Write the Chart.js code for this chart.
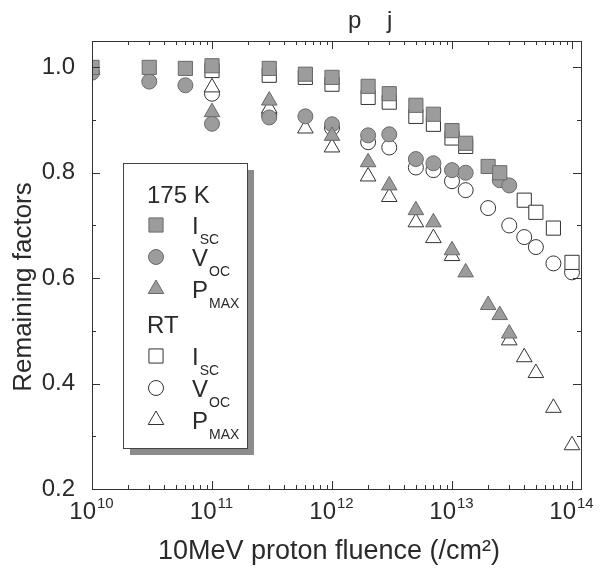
<!DOCTYPE html>
<html>
<head>
<meta charset="utf-8">
<script src="https://cdn.jsdelivr.net/npm/chart.js@4.4.0/dist/chart.umd.min.js"></script>
<style>
html,body{margin:0;padding:0;background:#fff;}
</style>
</head>
<body>
<canvas id="myChart" width="600" height="571"></canvas>
<script>
//175 K 数据
var isc175Fluence=[1e10,3e10,6e10,1e11,3e11,6e11,1e12,2e12,3e12,5e12,7e12,1e13,1.3e13,2e13,2.5e13];
var isc175=[1.0,1.0,0.998,1.003,0.998,0.987,0.981,0.964,0.95,0.928,0.911,0.88,0.856,0.812,0.80];
var voc175Fluence=[1e10,3e10,6e10,1e11,3e11,6e11,1e12,2e12,3e12,5e12,7e12,1e13,1.3e13,2.5e13,3e13];
var voc175=[0.99,0.973,0.966,0.893,0.905,0.907,0.892,0.871,0.873,0.826,0.818,0.805,0.80,0.786,0.776];
var pmax175Fluence=[1e10,1e11,3e11,1e12,2e12,3e12,5e12,7e12,1e13,1.3e13,2e13,2.5e13,3e13];
var pmax175=[0.995,0.915,0.937,0.87,0.82,0.776,0.729,0.706,0.653,0.611,0.549,0.53,0.495];
//RT 数据
var iscRTFluence=[1e11,3e11,6e11,1e12,2e12,3e12,5e12,7e12,1e13,1.3e13,4e13,5e13,7e13,1e14];
var iscRT=[0.994,0.985,0.981,0.968,0.943,0.934,0.907,0.892,0.866,0.85,0.748,0.725,0.695,0.63];
var vocRTFluence=[1e11,3e11,1e12,2e12,3e12,5e12,7e12,1e13,1.3e13,2e13,3e13,4e13,5e13,7e13,1e14];
var vocRT=[0.95,0.91,0.885,0.858,0.848,0.81,0.805,0.784,0.767,0.733,0.70,0.678,0.659,0.628,0.611];
var pmaxRTFluence=[1e11,3e11,6e11,1e12,2e12,3e12,5e12,7e12,1e13,3e13,4e13,5e13,7e13,1e14];
var pmaxRT=[0.962,0.922,0.884,0.848,0.793,0.754,0.706,0.676,0.642,0.482,0.45,0.42,0.354,0.283];
//坐标轴刻度
var xDecades=[1e10,1e11,1e12,1e13,1e14];
var yTicks=[0.2,0.4,0.6,0.8,1.0];
var yMinorTicks=[0.3,0.5,0.7,0.9];

var FONT='"Liberation Sans", Arial, sans-serif';
var TEXT='#2a2a2a';
var GRAY='#9c9c9c';

function pts(xs,ys){
	var arr=[];
	for(var i=0;i<xs.length;i++){
		arr.push({x:xs[i],y:ys[i]});
	}
	return arr;
}
function filled(label,xs,ys,style,r){
	return {label:label,data:pts(xs,ys),pointStyle:style,pointRadius:r,pointHoverRadius:r,
		backgroundColor:GRAY,borderColor:'#6a6a6a',borderWidth:1,clip:0};
}
function open(label,xs,ys,style,r){
	return {label:label,data:pts(xs,ys),pointStyle:style,pointRadius:r,pointHoverRadius:r,
		backgroundColor:'#fff',borderColor:'#333',borderWidth:1,clip:0};
}

//边框、内向刻度、x轴标签、图例
var framePlugin={
	id:'frame',
	afterDatasetsDraw:function(chart){
		var ctx=chart.ctx,a=chart.chartArea,xs=chart.scales.x,ys=chart.scales.y;
		ctx.save();
		ctx.strokeStyle='#333';
		ctx.lineWidth=1;
		ctx.strokeRect(a.left+0.5,a.top+0.5,a.right-a.left,a.bottom-a.top);
		ctx.beginPath();
		//x 主刻度和次刻度
		for(var d=0;d<xDecades.length;d++){
			for(var m=1;m<10;m++){
				var v=xDecades[d]*m;
				if(v<xs.min||v>xs.max)continue;
				var px=Math.round(xs.getPixelForValue(v))+0.5;
				var len=(m==1)?8:4;
				ctx.moveTo(px,a.bottom);ctx.lineTo(px,a.bottom-len);
				ctx.moveTo(px,a.top);ctx.lineTo(px,a.top+len);
			}
		}
		//y 刻度
		yTicks.concat(yMinorTicks).forEach(function(v){
			var py=Math.round(ys.getPixelForValue(v))+0.5;
			var len=(yTicks.indexOf(v)>=0)?8:4;
			ctx.moveTo(a.left,py);ctx.lineTo(a.left+len,py);
			ctx.moveTo(a.right,py);ctx.lineTo(a.right-len,py);
		});
		ctx.stroke();
		ctx.restore();
	},
	afterDraw:function(chart){
		var ctx=chart.ctx,a=chart.chartArea,xs=chart.scales.x;
		ctx.save();
		ctx.fillStyle=TEXT;
		ctx.textBaseline='alphabetic';
		//x轴 10^n 标签
		xDecades.forEach(function(v){
			var px=xs.getPixelForValue(v);
			var exp=String(Math.round(Math.log10(v)));
			ctx.font='24px '+FONT;
			var w1=ctx.measureText('10').width;
			ctx.font='15px '+FONT;
			var w2=ctx.measureText(exp).width;
			var x0=px-(w1+w2)/2-1;
			ctx.font='24px '+FONT;
			ctx.fillText('10',x0,a.bottom+30);
			ctx.font='15px '+FONT;
			ctx.fillText(exp,x0+w1+1,a.bottom+19);
		});
		//x轴标题
		ctx.textAlign='center';
		ctx.font='27px '+FONT;
		ctx.fillText('10MeV proton fluence (/cm\u00b2)',a.left+237,a.bottom+70);
		//y轴标题
		ctx.save();
		ctx.translate(24,a.top+246);
		ctx.rotate(-Math.PI/2);
		ctx.textBaseline='middle';
		ctx.font='26px '+FONT;
		ctx.fillText('Remaining factors',0,0);
		ctx.restore();
		ctx.textAlign='left';
		//顶部残留标题
		ctx.font='24px '+FONT;
		ctx.fillText('p',a.left+256,a.top-13);
		ctx.fillText('j',a.left+295,a.top-13);

		//图例
		var bx=a.left+31,by=a.top+122,bw=124,bh=285;
		ctx.fillStyle='#8c8c8c';
		ctx.fillRect(bx+7,by+7,bw,bh);
		ctx.fillStyle='#fff';
		ctx.fillRect(bx,by,bw,bh);
		ctx.strokeStyle='#444';
		ctx.lineWidth=1;
		ctx.strokeRect(bx+0.5,by+0.5,bw,bh);

		var ds=chart.data.datasets;
		var rows=[
			{head:'175 K',y:31},
			{set:0,main:'I',sub:'SC',y:62},
			{set:2,main:'V',sub:'OC',y:94},
			{set:1,main:'P',sub:'MAX',y:126},
			{head:'RT',y:161},
			{set:4,main:'I',sub:'SC',y:193},
			{set:5,main:'V',sub:'OC',y:225},
			{set:3,main:'P',sub:'MAX',y:257}
		];
		rows.forEach(function(r){
			var cy=by+r.y;
			ctx.fillStyle=TEXT;
			if(r.head){
				ctx.font='24px '+FONT;
				ctx.fillText(r.head,bx+24,cy+8.5);
				return;
			}
			var d=ds[r.set];
			ctx.fillStyle=d.backgroundColor;
			ctx.strokeStyle=d.borderColor;
			ctx.lineWidth=d.borderWidth;
			Chart.helpers.drawPoint(ctx,{pointStyle:d.pointStyle,radius:d.pointRadius,rotation:0,borderWidth:d.borderWidth},bx+33,cy);
			ctx.fillStyle=TEXT;
			ctx.font='24px '+FONT;
			ctx.fillText(r.main,bx+69,cy+8.5);
			var w=ctx.measureText(r.main).width;
			ctx.font='14px '+FONT;
			ctx.fillText(r.sub,bx+69+w+1,cy+18.5);
		});
		ctx.restore();
	}
};

var ctx1=document.getElementById("myChart");
var myChart=new Chart(ctx1,{
	type:'scatter',
	data:{
		datasets:[
			filled('Isc 175 K',isc175Fluence,isc175,'rect',10),
			filled('Pmax 175 K',pmax175Fluence,pmax175,'triangle',9),
			filled('Voc 175 K',voc175Fluence,voc175,'circle',7.5),
			open('Pmax RT',pmaxRTFluence,pmaxRT,'triangle',9),
			open('Isc RT',iscRTFluence,iscRT,'rect',10),
			open('Voc RT',vocRTFluence,vocRT,'circle',7.5)
		]
	},
	options:{
		responsive:false,
		animation:false,
		layout:{padding:{top:41,right:19,bottom:0,left:0}},
		plugins:{legend:{display:false},tooltip:{enabled:false}},
		scales:{
			x:{
				type:'logarithmic',
				min:1e10,
				max:Math.pow(10,14.075),
				grid:{display:false},
				border:{display:false},
				ticks:{display:false},
				afterFit:function(scale){scale.height=82;}
			},
			y:{
				min:0.2,
				max:1.05,
				grid:{display:false},
				border:{display:false},
				afterBuildTicks:function(scale){
					scale.ticks=yTicks.map(function(v){return {value:v};});
				},
				afterFit:function(scale){scale.width=92;},
				ticks:{color:TEXT,padding:9,font:{family:FONT,size:24},
					callback:function(v){return Number(v).toFixed(1);}}
			}
		}
	},
	plugins:[framePlugin]
});
</script>
</body>
</html>
